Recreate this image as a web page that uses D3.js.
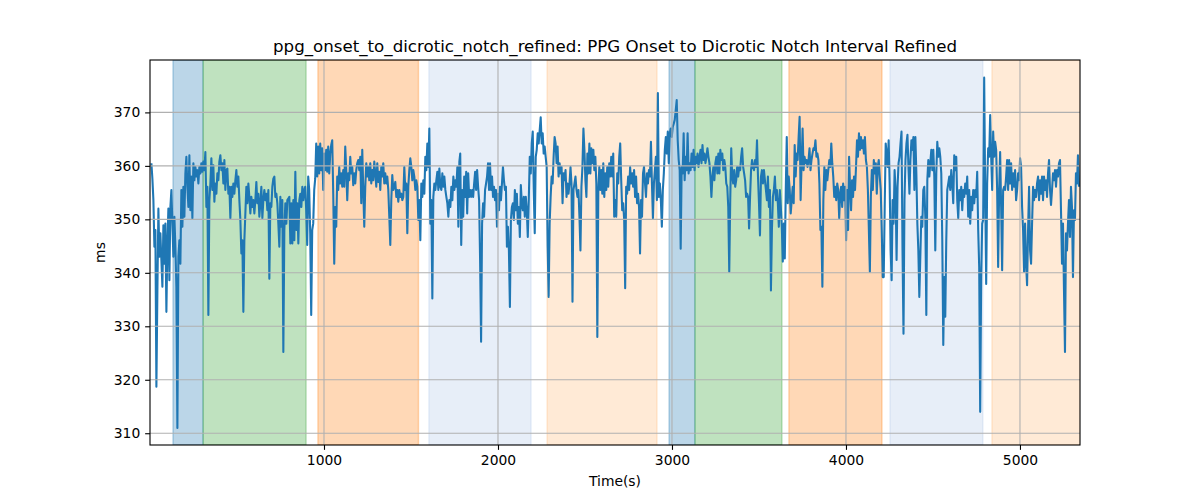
<!DOCTYPE html>
<html>
<head>
<meta charset="utf-8">
<script src="https://cdn.jsdelivr.net/npm/d3@7"></script>
<style>
  body { margin: 0; background: #fff; }
  svg { display: block; }
  text { font-family: "DejaVu Sans", sans-serif; fill: #000; }
</style>
</head>
<body>
<svg id="chart" width="1200" height="500"></svg>
<script>
// ---- data ----
const title = "ppg_onset_to_dicrotic_notch_refined: PPG Onset to Dicrotic Notch Interval Refined";
const xLabel = "Time(s)";
const yLabel = "ms";
const xTicks = [1000, 2000, 3000, 4000, 5000];
const yTicks = [310, 320, 330, 340, 350, 360, 370];

// shaded phases
const spanStart = [132, 305, 965, 1603, 2282, 2983, 3132, 3672, 4253, 4839];
const spanEnd   = [305, 897, 1543, 2190, 2914, 3132, 3632, 4207, 4787, 5400];
const spanColor = ["#1f77b4", "#2ca02c", "#ff7f0e", "#aec7e8", "#ffbb78",
                   "#1f77b4", "#2ca02c", "#ff7f0e", "#aec7e8", "#ffbb78"];

// series, read in six consecutive pieces (start / end time of each piece)
const segStart = [8, 892, 1783, 2674, 3563, 4456];
const segEnd   = [887, 1778, 2668, 3557, 4450, 5339];
const seg1 = [360.5,357.6,353.6,344.9,348,318.7,336.7,352,343,347.4,342.4,337.4,348.9,341.7,349.2,332.7,345.5,352,338.6,352.3,355.5,349.2,343,350.5,344.9,337.4,311,343,346.1,341.7,355.5,348.6,356.1,350.5,358.6,361.7,356.1,352.3,362,351.7,358,350.2,360.5,357.3,359.8,358,359.2,356.7,359.8,358.6,360.5,358.9,360.8,359.2,362.6,352.3,356.1,332.1,353.6,356.7,361.4,355.5,360.1,353.3,356.7,354.8,358.6,357.3,360.8,362,359.2,360.5,356.7,361.1,355.5,359.2,359.5,354.8,356.1,350.2,356.1,354.2,356.7,354.8,357.3,359.2,356.1,358,353.6,349.9,343.6,346.1,332.7,346.1,351.1,356.1,353,356.7,354.2,351.1,354.2,352.3,353.6,351.1,353.6,357,353,354.8,350.5,353,356.1,350.2,353.6,355.5,353.6,354.8,351.7,355.5,338.9,353,352.3,356.1,357.6,358,354.2,354.8,353,349.2,344.9,354.2,348.6,353.6,325.2,348,353,349.2,353.6,353.9,354.2,345.5,353,345.5,353.6,346.1,358.9,348,353,345.5,353.6,354.8,352.3,356.1,353.6,355.5];
const seg2 = [356.1,351.7,345.2,358,355.5,347.4,332.1,348,349.2,355.5,357.6,364.2,358,363.6,358.6,364.2,359.2,363.3,355.5,362.3,359.2,363,358.9,363.6,358.6,362.3,363.9,364.8,354.8,341.7,352.3,348.6,358,355.5,359.8,356.7,358.6,356.1,359.2,356.1,363.6,359.2,353.6,358.6,357.3,361.7,358.6,359.8,356.4,358.6,356.7,359.2,360.5,361.1,359.2,361.7,353,363,355.5,348.6,356.1,360.5,358,359.8,357.3,360.5,356.7,359.2,357.3,360.8,358.6,356.1,360.5,357,358.9,355.5,359.8,358,360.5,356.7,358.6,356.7,358,355.5,350.5,345.2,353.6,358.3,355.5,356.1,357,354.2,355.5,353.3,355.5,354.2,354.8,353.6,354.2,359.8,355.5,356.7,347.4,356.1,359.2,361.4,359.8,357.3,359.2,358,355.5,357.3,356.1,349.9,353.6,346.1,356.7,354.2,357.3,354.8,361.7,359.2,364.2,359.8,367,349.2,353.6,335.2,354.2,356.7,355.5,357.3,358.9,355.5,359.5,356.1,355.5,358.6,356.1,358,355.5,354.2,353,350.5,353.6,352.3,356.1,353.6,358,355.5,357.3,356.1,359.8,348.6,360.8];
const seg3 = [362.3,345.2,355.5,350.5,358,354.2,358.9,351.1,358.6,354.2,355.5,354.2,355.5,354.2,356.7,358.9,355.5,359.2,356.1,353.6,342.4,327.1,349.2,353,350.5,355.5,356.7,358,360.5,355.5,360.5,355.5,358,354.2,356.1,353.6,355.5,348.6,354.8,351.7,356.1,353.6,356.7,359.8,357.3,355.5,356.1,344.9,348.6,344.2,333.6,349.9,352.3,353,349.9,355.5,351.7,354.8,349.2,352.3,346.7,356.4,353,351.7,354.2,350.5,354.2,351.7,346.7,353.6,361.7,358.6,364.2,366.4,355.5,347.4,361.7,363,366.1,364.2,366.7,369.1,364.2,366.1,362.3,363.6,361.7,359.8,344.9,335.5,349.2,354.2,358,356.7,361.7,365.4,364.2,360.5,363.6,358,360.5,358.6,359.8,353,358.6,357.3,359.2,354.2,356.7,354.8,356.7,359.8,356.7,334.6,355.5,356.7,358,355.5,354.2,355.5,350.5,344.2,356.1,359.8,367,363,357.3,354.2,362.3,358.6,364.2,358.6,363.3,360.5,363,359.2,361.7,356.7,328,355.5,359.8,355.5,359.2,354.8,360.5,354.2,358.6,355.5,359.8,356.1,360.5,358,361.7,358,362.3,350.5];
const seg4 = [353.6,350.5,358.6,356.7,361.7,364.2,357.3,351.7,353,349.9,337.1,356.1,354.8,358,355.5,359.8,356.7,358.6,356.1,359.2,354.2,358,353,354.8,352.3,343.6,353.6,350.5,358.6,359.8,356.7,354.2,358.6,356.7,359.2,358,364.5,356.7,350.2,356.7,359.2,361.7,353.6,373.6,354.2,356.7,353.6,348.6,355.5,358.6,363,365.4,362.3,366.4,360.5,366.1,367,365.4,367.3,367.9,368.6,370.4,372.3,364.8,361.1,359.2,344.5,359.8,358.6,366.1,357.3,361.7,359.2,366.1,358.6,360.5,359.2,362.3,359.8,363,359.2,361.7,360.5,362.3,359.8,361.7,363,360.5,363.9,361.1,362.3,360.5,361.7,363.3,361.7,360.5,358,354.2,358,359.8,357.3,360.5,361.7,358.6,362.3,358.6,363,361.1,362.3,359.2,361.1,359.8,356.7,356.1,352.3,340.2,353.6,363.3,358,356.7,359.2,356.1,357.3,359.8,358,359.8,359.2,361.7,363.3,359.8,358.6,357.3,354.2,354.8,354.2,348.3,354.2,359.2,361.1,359.8,359.2,361.1,359.8,364.8,358,353,347,358,359.2,356.7,359.2,357.3,355.5,353.6,358,352.3];
const seg5 = [355.5,336.7,348,354.2,355.5,358,353.6,355.5,353,348.6,355.5,352.3,348.6,342.1,349.2,342.7,355.5,365.4,353,358,355.5,351.1,353.6,356.1,353,363.9,358,362.3,361.1,365.4,369.2,353.6,360.5,367,359.2,361.7,360.5,361.1,359.8,361.1,363.3,359.2,361.1,362.3,363.3,363,364.8,361.7,362.3,361.1,356.7,348,348.6,337.4,353.6,359.8,355.5,359.2,357.3,359.2,361.1,359.8,364.2,360.5,358,354.2,356.1,353.6,356.7,355.5,350.2,354.8,356.1,352.3,356.7,353.6,356.1,346.1,355.5,348,361.7,356.1,351.7,357.3,354.2,358,355.5,359.8,364.8,361.7,366.1,363,365.4,363.3,364.8,362.3,365.4,361.1,359.8,355.5,348,340.2,354.2,359.2,355.5,361.1,358.6,360.5,354.8,359.8,361.1,358,355.5,348,339.2,339.2,352.3,364.2,362.3,359.8,364.8,356.7,344.2,338.6,353.6,349.2,359.2,355.5,342.4,356.1,360.5,361.7,364.2,366.4,344.2,328.6,353.6,361.1,364.2,365.8,359.8,354.8,361.1,364.8,363,365.4,355.5,365.4,358.6,349.2,344.2,335.5,343,350.5,348.6,355.5,356.1];
const seg6 = [350.5,332.1,357.3,361.1,358,360.5,363,359.2,363,358,344.2,358.6,364.5,361.7,363.3,361.7,358.6,346.1,326.5,339.2,331.8,346.1,355.5,356.7,358,355.5,359.2,356.7,353,362,359.2,361.7,353.6,350.2,355.5,353.6,356.1,351.7,355.5,354.2,356.7,354.8,358,350.5,355.5,349.2,354.2,351.7,355.5,353,355.5,354.2,358.9,348,341.1,314,339.2,349.2,349.9,376.5,355.5,337.9,356.7,363.3,361.7,369.5,361.7,355.5,366.4,361.7,364.5,363,355.5,341.1,355.5,362.6,352.3,340.5,355.5,356.1,355.5,358,361.1,355.5,361.1,356.7,360.5,355.5,358.6,356.1,359.2,353.6,355.5,358.6,357.3,361.4,359.8,352.3,348,340.2,349.2,341.7,337.7,348,356.1,344.2,341.7,349.2,356.1,353.6,355.5,354.2,356.7,358,353.6,357.3,354.8,358,353.6,358,355.5,357.3,354.2,358.6,361.1,355.5,352.7,355.5,358.6,357.3,359.2,356.1,359.2,358,360.5,361.1,351.7,341.7,349.2,336.7,325.2,347.4,344.2,349.2,353.6,346.7,356.1,352.3,339.2,351.7,349.9,358.6,356.7,362,356.1];
const segments = [seg1, seg2, seg3, seg4, seg5, seg6];

// ---- build points (sample times evenly spread inside each piece) ----
const points = [];
segments.forEach((seg, k) => {
  const n = seg.length;
  seg.forEach((v, i) => {
    const t = segStart[k] + (segEnd[k] - segStart[k]) * (n > 1 ? i / (n - 1) : 0);
    points.push([t, v]);
  });
});

// ---- layout ----
const L = 150, R = 1080, T = 60, B = 445;
const svg = d3.select("#chart");
const x = d3.scaleLinear().domain([0, 5345]).range([L, R]);
const y = d3.scaleLinear().domain([307.8, 379.8]).range([B, T]);

svg.append("defs").append("clipPath").attr("id", "clip")
  .append("rect").attr("x", L).attr("y", T).attr("width", R - L).attr("height", B - T);

const plot = svg.append("g").attr("clip-path", "url(#clip)");

// spans
plot.selectAll("rect.span").data(spanStart).enter().append("rect")
  .attr("class", "span")
  .attr("x", (d) => x(d))
  .attr("width", (d, i) => x(spanEnd[i]) - x(d))
  .attr("y", T).attr("height", B - T)
  .attr("fill", (d, i) => spanColor[i]).attr("fill-opacity", 0.3)
  .attr("stroke", (d, i) => spanColor[i]).attr("stroke-opacity", 0.3).attr("stroke-width", 1.39);

// grid
const grid = svg.append("g").attr("stroke", "#b0b0b0").attr("stroke-width", 1.11);
grid.selectAll("line.gx").data(xTicks).enter().append("line")
  .attr("x1", (d) => x(d)).attr("x2", (d) => x(d)).attr("y1", T).attr("y2", B);
grid.selectAll("line.gy").data(yTicks).enter().append("line")
  .attr("x1", L).attr("x2", R).attr("y1", (d) => y(d)).attr("y2", (d) => y(d));

// line
const line = d3.line().x((d) => x(d[0])).y((d) => y(d[1]));
plot.append("path").datum(points)
  .attr("d", line).attr("fill", "none")
  .attr("stroke", "#1f77b4").attr("stroke-width", 2.08)
  .attr("stroke-linejoin", "round").attr("stroke-linecap", "butt");

// axes
const xAxis = d3.axisBottom(x).tickValues(xTicks).tickSize(4.86).tickPadding(4.86).tickFormat(d3.format("d"));
const yAxis = d3.axisLeft(y).tickValues(yTicks).tickSize(4.86).tickPadding(4.86).tickFormat(d3.format("d"));
const gx = svg.append("g").attr("transform", `translate(0,${B})`).call(xAxis);
const gy = svg.append("g").attr("transform", `translate(${L},0)`).call(yAxis);
[gx, gy].forEach((g) => {
  g.select(".domain").remove();
  g.selectAll(".tick line").attr("stroke", "#000").attr("stroke-width", 1.11);
  g.selectAll(".tick text").attr("font-size", "13.89px").attr("font-family", "DejaVu Sans, sans-serif").attr("fill", "#000");
});

// frame
svg.append("rect").attr("x", L).attr("y", T).attr("width", R - L).attr("height", B - T)
  .attr("fill", "none").attr("stroke", "#000").attr("stroke-width", 1.11);

// texts
svg.append("text").attr("x", (L + R) / 2).attr("y", 51.7).attr("text-anchor", "middle")
  .attr("font-size", "16.67px").text(title);
svg.append("text").attr("x", (L + R) / 2).attr("y", 486).attr("text-anchor", "middle")
  .attr("font-size", "13.89px").text(xLabel);
svg.append("text").attr("transform", `translate(105,${(T + B) / 2}) rotate(-90)`)
  .attr("text-anchor", "middle").attr("font-size", "13.89px").text(yLabel);
</script>
</body>
</html>
